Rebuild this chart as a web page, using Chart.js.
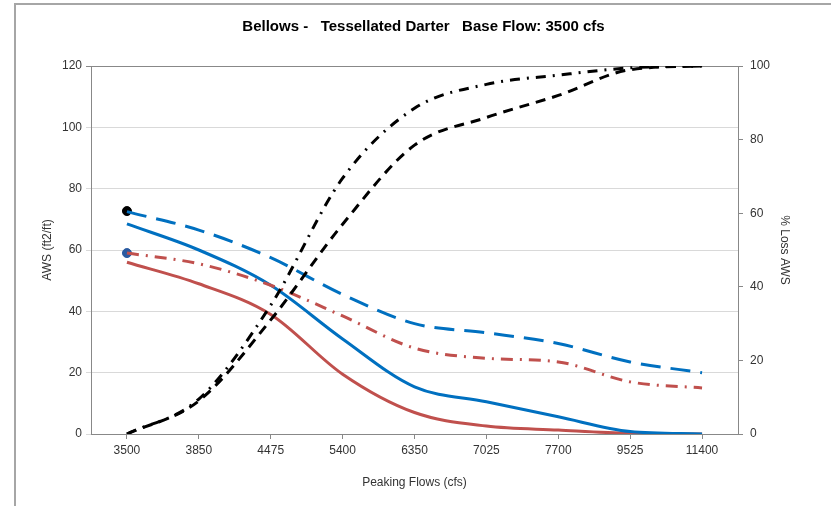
<!DOCTYPE html>
<html>
<head>
<meta charset="utf-8">
<script src="https://cdn.jsdelivr.net/npm/chart.js@4"></script>
<style>
  body { margin: 0; background: #fff; }
  #frame { position: absolute; left: 14px; top: 3px; width: 817px; height: 503px;
           border-left: 2px solid #a6a6a6; border-top: 2px solid #a6a6a6; }
  #wrap { position: absolute; left: 0; top: 0; width: 815px; height: 501px; }
</style>
</head>
<body>
<div id="frame"><div id="wrap"><canvas id="grafico"></canvas></div></div>
<script>
// peaking flows (cfs)
var flows = ["3500", "3850", "4475", "5400", "6350", "7025", "7700", "9525", "11400"];

// AWS (ft2/ft), left axis
var awsBlue = [68.5, 60, 48.5, 31, 15.4, 10.5, 5.6, 0.8, 0];
var awsRed = [56, 49, 39, 19.5, 7, 2.6, 1.3, 0.2, 0];
var awsBlueBase = [72.5, 66.5, 57.5, 45.5, 36, 33, 29.5, 23.5, 20];
var awsRedBase = [59, 55.5, 48.5, 38.5, 28, 24.7, 23.5, 17, 15];

// base flow points
var baseBlack = [72.7, null, null, null, null, null, null, null, null];
var baseBlue = [59, null, null, null, null, null, null, null, null];

// % loss AWS, right axis
var lossDash = [0, 9, 31, 57, 78.5, 86, 92, 99, 100];
var lossDashDot = [0, 9.5, 35, 69.5, 88.5, 95, 97.5, 99.5, 100];

var fnt = "'Liberation Sans Narrow', 'Liberation Sans', Arial, sans-serif";

function linea(label, data, color, dash, axis) {
    return {
        label: label,
        data: data,
        yAxisID: axis,
        borderColor: color,
        borderWidth: 3,
        borderDash: dash,
        pointRadius: 0,
        cubicInterpolationMode: 'monotone',
        fill: false
    };
}

new Chart(document.getElementById("grafico"), {
    type: 'line',
    data: {
        labels: flows,
        datasets: [
            linea("% Loss dash", lossDash, "#000000", [10, 7], 'y1'),
            linea("% Loss dash-dot", lossDashDot, "#000000", [10, 7, 2, 7], 'y1'),
            linea("AWS base blue", awsBlueBase, "#0070C0", [20, 10], 'y'),
            linea("AWS base red", awsRedBase, "#C0504D", [12, 7, 2, 7], 'y'),
            linea("AWS blue", awsBlue, "#0070C0", [], 'y'),
            linea("AWS red", awsRed, "#C0504D", [], 'y'),
            {
                label: "Base black", data: baseBlack, yAxisID: 'y', showLine: false,
                pointRadius: 4.5, pointBackgroundColor: "#000000", pointBorderColor: "#000000"
            },
            {
                label: "Base blue", data: baseBlue, yAxisID: 'y', showLine: false,
                pointRadius: 4.5, pointBackgroundColor: "#2a5aa0", pointBorderColor: "#2a5aa0"
            }
        ]
    },
    options: {
        responsive: true,
        maintainAspectRatio: false,
        animation: false,
        layout: { padding: 0 },
        plugins: {
            legend: { display: false },
            tooltip: { enabled: false },
            title: {
                display: true,
                text: 'Bellows -   Tessellated Darter   Base Flow: 3500 cfs',
                color: '#000',
                font: { family: fnt, size: 15, weight: 'bold' },
                padding: { top: 13, bottom: 30 }
            }
        },
        scales: {
            x: {
                offset: true,
                grid: { display: true, drawOnChartArea: false, tickLength: 5, color: '#888' },
                border: { color: '#888' },
                ticks: { color: '#333', font: { family: fnt, size: 12 }, padding: 4, maxRotation: 0 },
                title: { display: true, text: 'Peaking Flows (cfs)', color: '#333',
                         font: { family: fnt, size: 12 }, padding: { top: 0, bottom: 16 } },
                afterFit: function (s) { s.height = 72; }
            },
            y: {
                position: 'left',
                min: 0, max: 120,
                ticks: { stepSize: 20, color: '#333', font: { family: fnt, size: 12 }, padding: 4 },
                grid: {
                    tickLength: 5,
                    color: function (c) { return c.tick && c.tick.value === 120 ? '#888' : '#d9d9d9'; }
                },
                border: { color: '#888' },
                title: { display: true, text: 'AWS (ft2/ft)', color: '#333',
                         font: { family: fnt, size: 12 }, padding: { top: 24, bottom: 0 } },
                afterFit: function (s) { s.width = 75; }
            },
            y1: {
                position: 'right',
                min: 0, max: 100,
                ticks: { stepSize: 20, color: '#333', font: { family: fnt, size: 12 }, padding: 7 },
                grid: { drawOnChartArea: false, tickLength: 5, color: '#888' },
                border: { color: '#888' },
                title: { display: true, text: '% Loss AWS', color: '#333',
                         font: { family: fnt, size: 12 }, padding: { top: 39, bottom: 0 } },
                afterFit: function (s) { s.width = 93; }
            }
        }
    }
});
</script>
</body>
</html>
